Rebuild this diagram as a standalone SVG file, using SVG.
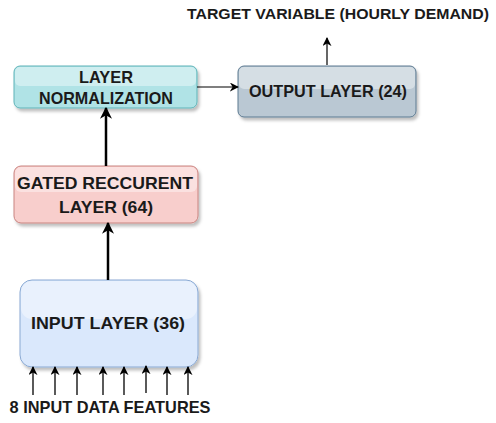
<svg xmlns="http://www.w3.org/2000/svg" width="496" height="423" viewBox="0 0 496 423">
<style>
text{font-family:"Liberation Sans",Arial,sans-serif;font-weight:bold;font-size:16.5px;fill:#1a1a1a;text-anchor:middle}
.glass{fill:#ffffff;opacity:0.4}
.edge{stroke:#000;fill:none}
</style>
<defs>
<filter id="sh" x="-10%" y="-10%" width="130%" height="140%">
<feDropShadow dx="2" dy="3" stdDeviation="1.5" flood-color="#000" flood-opacity="0.25"/>
</filter>
<marker id="ah" viewBox="0 0 10 10" refX="9" refY="5" markerWidth="9" markerHeight="9" markerUnits="userSpaceOnUse" orient="auto">
<path d="M0,0 L10,5 L0,10 L3,5 Z" fill="#000"/>
</marker>
<marker id="ahb" viewBox="0 0 10 10" refX="9" refY="5" markerWidth="12" markerHeight="12" markerUnits="userSpaceOnUse" orient="auto">
<path d="M0,0 L10,5 L0,10 L3,5 Z" fill="#000"/>
</marker>
</defs>
<g id="target-label"><text x="338" y="19" style="font-size:15px" textLength="302" lengthAdjust="spacingAndGlyphs">TARGET VARIABLE (HOURLY DEMAND)</text></g>
<g id="layer-norm">
<rect x="14" y="66" width="183" height="42" rx="6" fill="#b0e3e6" stroke="#5fb3b8" stroke-width="1" filter="url(#sh)"/>
<rect class="glass" x="15" y="67" width="181" height="19" rx="5"/>
<text x="106" y="83" textLength="54" lengthAdjust="spacingAndGlyphs">LAYER</text>
<text x="106" y="104" textLength="134" lengthAdjust="spacingAndGlyphs">NORMALIZATION</text>
</g>
<g id="output-layer">
<rect x="238" y="66" width="178" height="51" rx="6" fill="#bac8d3" stroke="#5d7a91" stroke-width="1" filter="url(#sh)"/>
<rect class="glass" x="239" y="67" width="176" height="22" rx="5"/>
<text x="328" y="97" textLength="158" lengthAdjust="spacingAndGlyphs">OUTPUT LAYER (24)</text>
</g>
<g id="gated-recurrent">
<rect x="14" y="166" width="184" height="57" rx="7" fill="#f8cecc" stroke="#c98480" stroke-width="1" filter="url(#sh)"/>
<rect class="glass" x="15" y="167" width="182" height="25" rx="6"/>
<text x="105" y="189" textLength="176" lengthAdjust="spacingAndGlyphs">GATED RECCURENT</text>
<text x="106" y="213" textLength="94" lengthAdjust="spacingAndGlyphs">LAYER (64)</text>
</g>
<g id="input-layer">
<rect x="20" y="280" width="178" height="87" rx="12" fill="#dae8fc" stroke="#8aa9d2" stroke-width="1" filter="url(#sh)"/>
<rect class="glass" x="21" y="281" width="176" height="38" rx="11"/>
<text x="108" y="329" textLength="154" lengthAdjust="spacingAndGlyphs">INPUT LAYER (36)</text>
</g>
<g id="features-label"><text x="110" y="413" textLength="201" lengthAdjust="spacingAndGlyphs">8 INPUT DATA FEATURES</text></g>
<g id="connectors">
<path class="edge" d="M197,87 L238,87" stroke-width="1.2" marker-end="url(#ah)"/>
<path class="edge" d="M327,65 L327,38" stroke-width="1.2" marker-end="url(#ah)"/>
<path class="edge" d="M106,166 L106,108" stroke-width="2.5" marker-end="url(#ahb)"/>
<path class="edge" d="M108,280 L108,223" stroke-width="2.5" marker-end="url(#ahb)"/>
<path class="edge" d="M33,395 L33,367" stroke-width="1.3" marker-end="url(#ah)"/>
<path class="edge" d="M55,395 L55,367" stroke-width="1.3" marker-end="url(#ah)"/>
<path class="edge" d="M77,395 L77,367" stroke-width="1.3" marker-end="url(#ah)"/>
<path class="edge" d="M103,395 L103,367" stroke-width="1.3" marker-end="url(#ah)"/>
<path class="edge" d="M124,395 L124,367" stroke-width="1.3" marker-end="url(#ah)"/>
<path class="edge" d="M146,393 L146,366" stroke-width="1.3" marker-end="url(#ah)"/>
<path class="edge" d="M167,395 L167,367" stroke-width="1.3" marker-end="url(#ah)"/>
<path class="edge" d="M188,395 L188,367" stroke-width="1.3" marker-end="url(#ah)"/>
</g>
</svg>
